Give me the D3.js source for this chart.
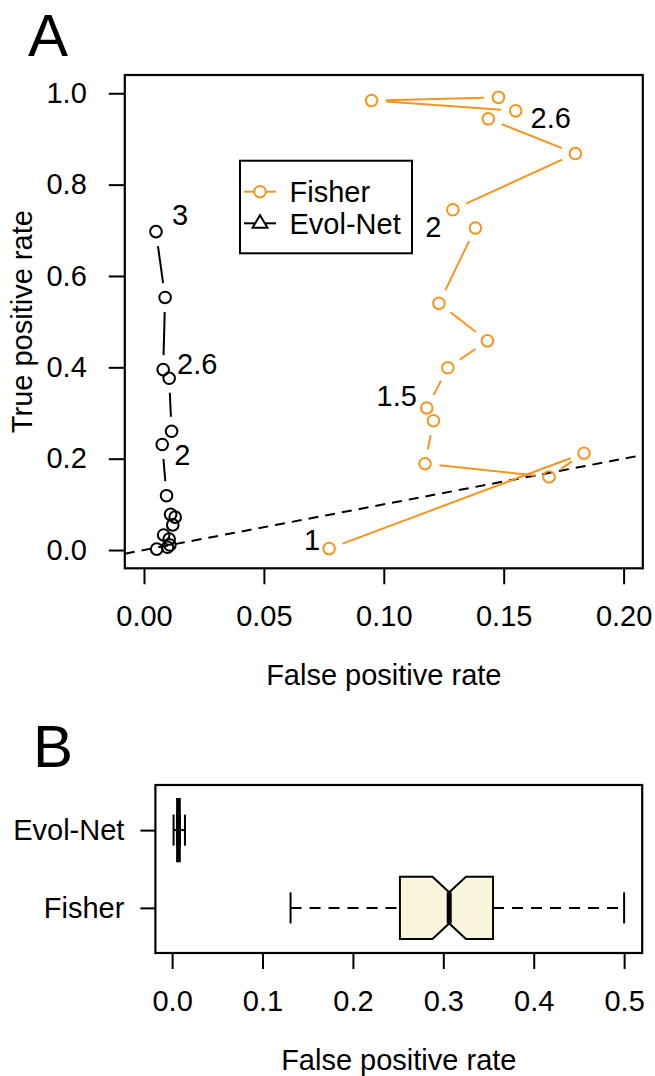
<!DOCTYPE html>
<html>
<head>
<meta charset="utf-8">
<script src="https://cdn.jsdelivr.net/npm/d3@7"></script>
<style>
  body { margin: 0; background: #fff; }
  text { font-family: "Liberation Sans", Arial, Helvetica, sans-serif; fill: #000; }
</style>
</head>
<body>
<script>
/*panel A data: ROC points along the threshold, in drawing order*/
var fisherFPR = [0.0772, 0.1835, 0.1689, 0.1172, 0.1207, 0.1179, 0.1267, 0.1432, 0.1230, 0.1382, 0.1288, 0.1799, 0.1436, 0.1550, 0.0949, 0.1478];
var fisherTPR = [0.003, 0.212, 0.160, 0.189, 0.283, 0.311, 0.399, 0.458, 0.540, 0.705, 0.745, 0.868, 0.944, 0.9615, 0.984, 0.991];
var evolFPR = [0.0050, 0.0088, 0.0080, 0.0105, 0.0115, 0.0076, 0.0094, 0.0111, 0.0130, 0.0120, 0.0082, 0.0105, 0.0108, 0.0098, 0.0053];
var evolTPR = [0.697, 0.553, 0.395, 0.376, 0.260, 0.231, 0.119, 0.078, 0.072, 0.055, 0.033, 0.024, 0.011, 0.006, 0.002];

/*threshold labels: which series, which point, what text*/
var labelSeries = ["evol", "evol", "evol", "fisher", "fisher", "fisher", "fisher"];
var labelIndex = [0, 2, 5, 0, 5, 9, 13];
var labelText = ["3", "2.6", "2", "1", "1.5", "2", "2.6"];

var legendNames = ["Fisher", "Evol-Net"];

var xTicksA = [0, 0.05, 0.10, 0.15, 0.20];
var yTicksA = [0, 0.2, 0.4, 0.6, 0.8, 1.0];

/*panel B data: boxplot stats, group order bottom to top*/
var boxGroups = ["Fisher", "Evol-Net"];
var boxLow = [0.131, 0.0016];
var boxQ1 = [0.252, 0.0055];
var boxMedian = [0.3065, 0.0070];
var boxQ3 = [0.355, 0.0085];
var boxHigh = [0.500, 0.0142];
var notchLow = [0.288, 0.0063];
var notchHigh = [0.325, 0.0077];

var xTicksB = [0, 0.1, 0.2, 0.3, 0.4, 0.5];

/*styling*/
var orange = "#F7941E";
var boxFill = "#FAF5DC";
var fontSize = 29;
var pointRadius = 5.8;
/*label nudges in px from its point (dx, dy)*/
var labelNudge = [[24, -17], [34, -6], [20, 10], [-17, -9], [-30, -12], [-42, -1], [35, 7]];

var svg = d3.select("body").append("svg")
	.attr("width", 655)
	.attr("height", 1076);

/*=============== panel A ===============*/
var xA = d3.scaleLinear().domain([-0.008, 0.208]).range([124.8, 642.8]);
var yA = d3.scaleLinear().domain([-0.04, 1.04]).range([568.3, 75]);

var gA = svg.append("g");

/*diagonal reference line y = x, clipped to the frame*/
gA.append("clipPath").attr("id", "clipA")
	.append("rect")
	.attr("x", xA(-0.008)).attr("y", yA(1.04))
	.attr("width", xA(0.208) - xA(-0.008)).attr("height", yA(-0.04) - yA(1.04));

gA.append("line")
	.attr("clip-path", "url(#clipA)")
	.attr("x1", xA(-0.008)).attr("y1", yA(-0.008))
	.attr("x2", xA(0.208)).attr("y2", yA(0.208))
	.attr("stroke", "#000")
	.attr("stroke-width", 2)
	.attr("stroke-dasharray", "10,7");

/*draw lines between points with a gap around each point (like type = "b")*/
function drawGapLine(g, xs, ys, color) {
	var gap = 14.5;
	for (var i = 0; i < xs.length - 1; i++) {
		var x1 = xA(xs[i]), y1 = yA(ys[i]);
		var x2 = xA(xs[i + 1]), y2 = yA(ys[i + 1]);
		var len = Math.sqrt((x2 - x1) * (x2 - x1) + (y2 - y1) * (y2 - y1));
		if (len <= 2 * gap) continue;
		var ux = (x2 - x1) / len, uy = (y2 - y1) / len;
		g.append("line")
			.attr("x1", x1 + ux * gap).attr("y1", y1 + uy * gap)
			.attr("x2", x2 - ux * gap).attr("y2", y2 - uy * gap)
			.attr("stroke", color)
			.attr("stroke-width", 2);
	}
}

function drawPoints(g, xs, ys, color) {
	g.selectAll(null)
		.data(d3.range(xs.length))
		.enter()
		.append("circle")
		.attr("cx", i => xA(xs[i]))
		.attr("cy", i => yA(ys[i]))
		.attr("r", pointRadius)
		.attr("fill", "none")
		.attr("stroke", color)
		.attr("stroke-width", 2);
}

drawGapLine(gA, fisherFPR, fisherTPR, orange);
drawPoints(gA, fisherFPR, fisherTPR, orange);
drawGapLine(gA, evolFPR, evolTPR, "#000");
drawPoints(gA, evolFPR, evolTPR, "#000");

/*threshold labels*/
gA.selectAll(".ptLabel")
	.data(d3.range(labelText.length))
	.enter()
	.append("text")
	.attr("class", "ptLabel")
	.attr("x", i => {
		var xs = labelSeries[i] == "evol" ? evolFPR : fisherFPR;
		return xA(xs[labelIndex[i]]) + labelNudge[i][0];
	})
	.attr("y", i => {
		var ys = labelSeries[i] == "evol" ? evolTPR : fisherTPR;
		return yA(ys[labelIndex[i]]) + labelNudge[i][1];
	})
	.attr("dy", "0.36em")
	.attr("text-anchor", "middle")
	.style("font-size", fontSize + "px")
	.text(i => labelText[i]);

/*axes*/
gA.append("g")
	.attr("transform", `translate(0, ${yA(-0.04)})`)
	.call(d3.axisBottom(xA).tickValues(xTicksA).tickFormat(d3.format(".2f")).tickSize(16).tickPadding(21).tickSizeOuter(0));
gA.append("g")
	.attr("transform", `translate(${xA(-0.008)}, 0)`)
	.call(d3.axisLeft(yA).tickValues(yTicksA).tickFormat(d3.format(".1f")).tickSize(16).tickPadding(22).tickSizeOuter(0));

/*frame*/
gA.append("rect")
	.attr("x", xA(-0.008)).attr("y", yA(1.04))
	.attr("width", xA(0.208) - xA(-0.008)).attr("height", yA(-0.04) - yA(1.04))
	.attr("fill", "none")
	.attr("stroke", "#000")
	.attr("stroke-width", 2.2);

/*axis titles*/
gA.append("text")
	.attr("x", (xA(-0.008) + xA(0.208)) / 2)
	.attr("y", 685)
	.attr("text-anchor", "middle")
	.style("font-size", fontSize + "px")
	.text("False positive rate");

gA.append("text")
	.attr("transform", `translate(32, ${(yA(-0.04) + yA(1.04)) / 2}) rotate(-90)`)
	.attr("text-anchor", "middle")
	.style("font-size", fontSize + "px")
	.text("True positive rate");

/*legend*/
var legend = gA.append("g");
legend.append("rect")
	.attr("x", 240).attr("y", 160.7)
	.attr("width", 172).attr("height", 92.6)
	.attr("fill", "#fff")
	.attr("stroke", "#000")
	.attr("stroke-width", 2);

legendNames.forEach(function (name, i) {
	var ly = 191.7 + i * 31.6;
	var color = i == 0 ? orange : "#000";
	legend.append("line")
		.attr("x1", 244).attr("x2", 276)
		.attr("y1", ly).attr("y2", ly)
		.attr("stroke", color)
		.attr("stroke-width", 2);
	if (i == 0) {
		legend.append("circle")
			.attr("cx", 260).attr("cy", ly).attr("r", pointRadius)
			.attr("fill", "#fff").attr("stroke", color).attr("stroke-width", 2);
	} else {
		legend.append("path")
			.attr("d", `M260,${ly - 8} L267.5,${ly + 4.5} L252.5,${ly + 4.5} Z`)
			.attr("fill", "#fff").attr("stroke", color).attr("stroke-width", 2);
	}
	legend.append("text")
		.attr("x", 289.5)
		.attr("y", ly)
		.attr("dy", "0.36em")
		.style("font-size", fontSize + "px")
		.text(name);
});

/*panel letter*/
svg.append("text")
	.attr("x", 28).attr("y", 56)
	.style("font-size", "60px")
	.text("A");

/*=============== panel B ===============*/
var xB = d3.scaleLinear().domain([-0.0185, 0.520]).range([155.4, 642.2]);
var yB = d3.scaleLinear().domain([0.42, 2.58]).range([953, 785]);
var halfBox = yB(1) - yB(1.4);

var gB = svg.append("g");

boxGroups.forEach(function (name, i) {
	var cy = yB(i + 1);
	/*whiskers*/
	gB.append("line")
		.attr("x1", xB(boxLow[i])).attr("x2", xB(boxQ1[i]))
		.attr("y1", cy).attr("y2", cy)
		.attr("stroke", "#000").attr("stroke-width", 2).attr("stroke-dasharray", "11,8");
	gB.append("line")
		.attr("x1", xB(boxQ3[i])).attr("x2", xB(boxHigh[i]))
		.attr("y1", cy).attr("y2", cy)
		.attr("stroke", "#000").attr("stroke-width", 2).attr("stroke-dasharray", "11,8");
	/*staples*/
	[boxLow[i], boxHigh[i]].forEach(function (v) {
		gB.append("line")
			.attr("x1", xB(v)).attr("x2", xB(v))
			.attr("y1", cy - halfBox / 2).attr("y2", cy + halfBox / 2)
			.attr("stroke", "#000").attr("stroke-width", 2);
	});
	/*notched box*/
	var pts = [
		[boxQ1[i], cy - halfBox], [notchLow[i], cy - halfBox], [boxMedian[i], cy - halfBox / 2],
		[notchHigh[i], cy - halfBox], [boxQ3[i], cy - halfBox], [boxQ3[i], cy + halfBox],
		[notchHigh[i], cy + halfBox], [boxMedian[i], cy + halfBox / 2], [notchLow[i], cy + halfBox],
		[boxQ1[i], cy + halfBox]
	];
	gB.append("path")
		.attr("d", "M" + pts.map(p => xB(p[0]) + "," + p[1]).join("L") + "Z")
		.attr("fill", boxFill)
		.attr("stroke", "#000")
		.attr("stroke-width", 2);
	/*median*/
	gB.append("line")
		.attr("x1", xB(boxMedian[i])).attr("x2", xB(boxMedian[i]))
		.attr("y1", cy - halfBox / 2).attr("y2", cy + halfBox / 2)
		.attr("stroke", "#000").attr("stroke-width", 5);
});

gB.append("g")
	.attr("transform", `translate(0, ${yB(0.42)})`)
	.call(d3.axisBottom(xB).tickValues(xTicksB).tickFormat(d3.format(".1f")).tickSize(16).tickPadding(21).tickSizeOuter(0));
gB.append("g")
	.attr("transform", `translate(${xB(-0.0185)}, 0)`)
	.call(d3.axisLeft(yB).tickValues([1, 2]).tickFormat((d, i) => boxGroups[i]).tickSize(15).tickPadding(16).tickSizeOuter(0));

gB.append("rect")
	.attr("x", xB(-0.0185)).attr("y", yB(2.58))
	.attr("width", xB(0.520) - xB(-0.0185)).attr("height", yB(0.42) - yB(2.58))
	.attr("fill", "none")
	.attr("stroke", "#000")
	.attr("stroke-width", 2.2);

gB.append("text")
	.attr("x", (xB(-0.0185) + xB(0.520)) / 2)
	.attr("y", 1070)
	.attr("text-anchor", "middle")
	.style("font-size", fontSize + "px")
	.text("False positive rate");

svg.append("text")
	.attr("x", 33).attr("y", 766.7)
	.style("font-size", "60px")
	.text("B");

/*common axis styling*/
svg.selectAll(".domain").remove();
svg.selectAll(".tick line").attr("stroke", "#000").attr("stroke-width", 2);
svg.selectAll(".tick text").style("font-size", fontSize + "px").attr("fill", "#000");
</script>
</body>
</html>
